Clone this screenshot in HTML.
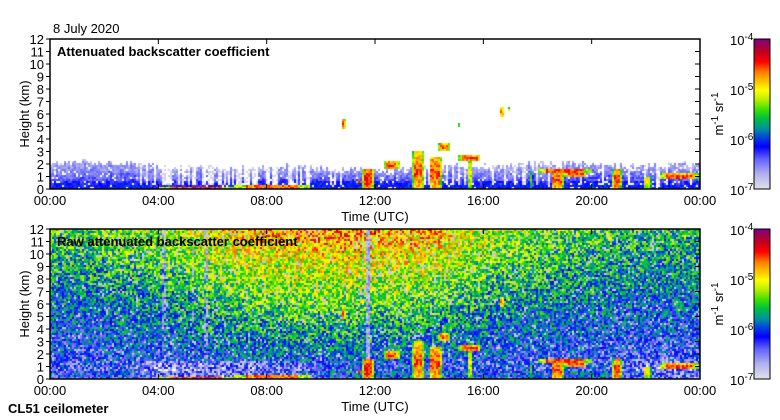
<!DOCTYPE html>
<html><head><meta charset="utf-8">
<style>
body{margin:0;background:#fff;width:780px;height:420px;position:relative;overflow:hidden;font-family:"Liberation Sans",sans-serif}
canvas{position:absolute}
svg{position:absolute;left:0;top:0}
</style></head>
<body>
<canvas id="c1" width="650" height="150" style="left:50px;top:39px"></canvas>
<canvas id="c2" width="650" height="150" style="left:50px;top:229px"></canvas>
<canvas id="cb1" width="16" height="150" style="left:754px;top:39px"></canvas>
<canvas id="cb2" width="16" height="150" style="left:754px;top:229px"></canvas>
<svg id="ax" width="780" height="420"></svg>
<script>
// ---- data (hourly, 0..24 UTC) ----
const hours=[0,1,2,3,4,5,6,7,8,9,10,11,12,13,14,15,16,17,18,19,20,21,22,23,24];
const blTop=[2.2,2.2,2.1,2.0,1.8,1.6,1.8,1.7,1.7,1.8,1.7,1.6,1.5,1.6,1.7,1.9,1.8,1.9,2.1,2.0,2.0,1.8,1.9,1.9,2.0];
const blDensity=[1,1,0.95,0.9,0.45,0.4,0.35,0.45,0.55,0.6,0.8,0.85,0.85,0.85,0.8,0.8,0.8,0.8,0.8,0.8,0.85,0.85,0.8,0.8,0.8];
const blStrength=[0.26,0.26,0.27,0.28,0.24,0.24,0.26,0.26,0.28,0.28,0.28,0.3,0.3,0.28,0.27,0.27,0.26,0.26,0.26,0.27,0.3,0.3,0.26,0.26,0.26];
const rawTop=[0.5,0.5,0.52,0.54,0.56,0.6,0.66,0.7,0.72,0.73,0.74,0.75,0.74,0.73,0.72,0.67,0.6,0.56,0.54,0.52,0.5,0.48,0.47,0.47,0.47];
const rawLow=[0.24,0.24,0.25,0.26,0.26,0.28,0.3,0.31,0.32,0.33,0.33,0.33,0.31,0.31,0.31,0.29,0.28,0.27,0.26,0.25,0.24,0.23,0.22,0.22,0.22];
const rawSurf=[0.2,0.2,0.2,0.19,0.06,0.06,0.06,0.07,0.08,0.12,0.18,0.24,0.24,0.22,0.22,0.2,0.2,0.2,0.2,0.22,0.26,0.22,0.1,0.1,0.12];
// stripes: hour, width(h), lightening strength
const stripeHour=[4.2,5.3,5.75,11.75];
const stripeWidth=[0.12,0.1,0.1,0.2];
const stripeStrength=[0.5,0.45,0.45,0.9];
// cloud/aerosol features: start h, end h, base km, top km, peak colour fraction
const cStart=[4.0,6.8,11.5,11.3,10.8,12.3,13.4,14.0,14.3,14.3,15.1,15.4,15.1,16.6,16.9,17.7,18.0,18.5,20.75,21.9,22.5,19.0];
const cEnd  =[6.8,9.6,11.95,11.6,10.9,12.9,13.8,14.45,14.8,14.35,15.9,15.6,15.15,16.75,17.0,17.85,20.0,18.95,21.1,22.2,24.0,19.8];
const cBase =[0.0,0.0,0.0,0.5,4.8,1.6,0.0,0.0,3.1,5.0,2.2,0.0,4.9,5.8,6.2,0.0,1.3,0.0,0.0,0.0,0.8,1.0];
const cTop  =[0.2,0.35,1.6,0.7,5.6,2.2,3.0,2.6,3.6,5.3,2.7,2.5,5.3,6.5,6.5,1.5,1.6,1.5,1.6,1.0,1.2,1.3];
const cPeak =[0.84,0.84,0.86,0.87,0.86,0.84,0.82,0.82,0.84,0.72,0.84,0.62,0.7,0.76,0.6,0.5,0.86,0.82,0.84,0.68,0.86,0.86];

const stops=[[0,[224,224,234]],[0.1,[176,176,240]],[0.2,[96,96,255]],[0.28,[0,0,255]],[0.34,[0,64,224]],[0.4,[0,144,160]],[0.47,[0,192,64]],[0.53,[64,224,0]],[0.6,[192,240,0]],[0.66,[255,255,0]],[0.72,[255,192,0]],[0.78,[255,128,0]],[0.85,[255,0,0]],[0.92,[192,0,32]],[1,[128,0,128]]];
function cmap(f){f=Math.max(0,Math.min(1,f));for(let i=1;i<stops.length;i++){if(f<=stops[i][0]){const a=stops[i-1],b=stops[i],t=(f-a[0])/(b[0]-a[0]);return 'rgb('+a[1].map((v,k)=>Math.round(v+(b[1][k]-v)*t)).join(',')+')';}}return 'rgb(128,0,128)';}
function interp(arr,t){const i=Math.min(23,Math.floor(t));const r=t-i;return arr[i]*(1-r)+arr[i+1]*r;}
function tex(i,j,s){let h=(i*374761393+j*668265263+s*1442695041)|0;h=(h^(h>>>13))*1274126177|0;h=h^(h>>>16);return ((h>>>0)%10000)/10000;}
const CW=2,CH=2,NX=325,NY=75;
function cloudAt(t,z,i,j){let best=-1;for(let k=0;k<cStart.length;k++){if(t>=cStart[k]&&t<=cEnd[k]&&z>=cBase[k]&&z<=cTop[k]){const rel=(z-cBase[k])/Math.max(0.2,cTop[k]-cBase[k]);const edge=Math.min((t-cStart[k]),(cEnd[k]-t))/Math.max(0.05,(cEnd[k]-cStart[k]));let f=cPeak[k]-0.12*Math.abs(rel-0.5)*2-(edge<0.15?0.2:0)+(tex(i,j,9)-0.5)*0.16;if(f>best)best=f;}}return best;}
function drawPanel(id,raw){const ctx=document.getElementById(id).getContext('2d');
 for(let i=0;i<NX;i++){const t=(i+0.5)*24/NX;
  for(let j=0;j<NY;j++){const z=(NY-j-0.5)*12/NY;let f=-1;const n=tex(i,j,raw?2:1);
   if(raw){
    let base;const lo=interp(rawLow,t),hi=interp(rawTop,t),su=interp(rawSurf,t);
    if(z<1.5){base=su+(z<0.6?0.08:0)+(z/1.5)*(lo-su)*0.6;}else base=lo+(hi-lo)*Math.pow((z-1.5)/10.5,0.95);
    f=base+(n-0.5)*0.36;
    if(z>=1.5&&n<0.07)f=0.05;
    for(let k=0;k<stripeHour.length;k++){if(Math.abs(t-stripeHour[k])<stripeWidth[k]/2&&tex(i,j,5)<stripeStrength[k]){f=0.03+tex(i,j,6)*0.15;}}
   }else{
    const top=interp(blTop,t)+(tex(i,0,3)-0.5)*0.5;
    if(z<top){const d=interp(blDensity,t);const colOn=tex(i,0,4)<d||z<0.4;
     if(colOn&&n<0.92){f=interp(blStrength,t)*(1-0.6*z/top)+(n-0.5)*0.12+(z<0.6?0.04:0);}
     else if(n<0.4)f=0.03;}
   }
   const cf=cloudAt(t,z,i,j);if(cf>f)f=cf;
   if(f>=0){ctx.fillStyle=cmap(f);ctx.fillRect(i*CW,j*CH,CW,CH);}
  }}}
drawPanel('c1',false);drawPanel('c2',true);
['cb1','cb2'].forEach(id=>{const c=document.getElementById(id).getContext('2d');for(let y=0;y<150;y++){c.fillStyle=cmap(1-y/149);c.fillRect(0,y,16,1);}});

// ---- axes ----
const svg=document.getElementById('ax');const NS='http://www.w3.org/2000/svg';
function el(tag,attrs,txt){const e=document.createElementNS(NS,tag);for(const k in attrs)e.setAttribute(k,attrs[k]);if(txt!==undefined)e.textContent=txt;svg.appendChild(e);return e;}
const xTickHours=[0,4,8,12,16,20,24];
const xTickLabels=['00:00','04:00','08:00','12:00','16:00','20:00','00:00'];
const yTicks=[0,1,2,3,4,5,6,7,8,9,10,11,12];
const cbLabels=['-4','-5','-6','-7'];
const xs=h=>50+h*650/24;
[[39,'Attenuated backscatter coefficient','top'],[229,'Raw attenuated backscatter coefficient','bottom']].forEach(([y0,title,nm])=>{
 const ys=k=>y0+150-k*12.5;
 let r=el('rect',{x:50,y:y0,width:650,height:150,fill:'none',stroke:'#000','stroke-width':1.5});
 
 yTicks.forEach(k=>{
  let l=el('line',{x1:46,x2:50,y1:ys(k),y2:ys(k),stroke:'#000'});
  el('line',{x1:695,x2:700,y1:ys(k),y2:ys(k),stroke:'#000'});
  let tx=el('text',{x:44,y:ys(k)+5,'text-anchor':'end','font-size':13},String(k));});
 xTickHours.forEach((h,k)=>{el('line',{x1:xs(h),x2:xs(h),y1:y0,y2:y0+5,stroke:'#000'});el('line',{x1:xs(h),x2:xs(h),y1:y0+150,y2:y0+145,stroke:'#000'});
  let tx=el('text',{x:xs(h),y:y0+166,'text-anchor':'middle','font-size':13},xTickLabels[k]);});
 let tt=el('text',{x:57,y:y0+17,'font-size':13,'font-weight':'bold'},title);
 let yl=el('text',{x:0,y:0,'font-size':13,'text-anchor':'middle',transform:`translate(29,${y0+75}) rotate(-90)`},'Height (km)');
 let xl=el('text',{x:375,y:y0+182,'font-size':13,'text-anchor':'middle'},'Time (UTC)');
 el('rect',{x:754,y:y0,width:16,height:150,fill:'none',stroke:'#000','stroke-width':1});
 cbLabels.forEach((e,k)=>{let t=el('text',{x:730,y:y0+6+k*50,'font-size':13});
  const a=document.createElementNS(NS,'tspan');a.textContent='10';t.appendChild(a);const b=document.createElementNS(NS,'tspan');b.setAttribute('dy','-5');b.setAttribute('font-size','10');b.textContent=e;t.appendChild(b);});
 let u=el('text',{x:0,y:0,'font-size':13,'text-anchor':'middle',transform:`translate(723,${y0+75}) rotate(-90)`});
 [['m',0],['-1',-5],[' sr',5],['-1',-5]].forEach(([s,dy])=>{const sp=document.createElementNS(NS,'tspan');sp.setAttribute('dy',dy);if(s==='-1')sp.setAttribute('font-size','10');sp.textContent=s;u.appendChild(sp);});
});
let d=el('text',{x:53,y:33,'font-size':13},'8 July 2020');
let ci=el('text',{x:8,y:413,'font-size':13,'font-weight':'bold'},'CL51 ceilometer');
</script>
</body></html>
